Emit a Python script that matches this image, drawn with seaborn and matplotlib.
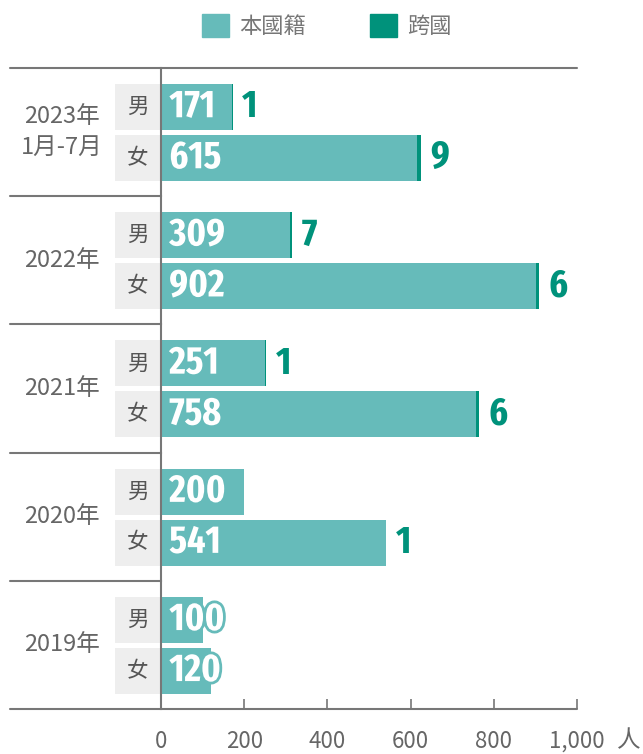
import matplotlib
matplotlib.use('Agg')
import matplotlib.pyplot as plt
import seaborn as sns
import pandas as pd
from matplotlib.patches import Patch, Rectangle
from matplotlib.lines import Line2D
import matplotlib.patheffects as pe
from matplotlib.transforms import blended_transform_factory
from matplotlib import font_manager
import os

# ---- data ----
years = ['2023年\n1月-7月', '2022年', '2021年', '2020年', '2019年']
sexes = ['男', '女']
local_male = [171, 309, 251, 200, 100]
local_female = [615, 902, 758, 541, 120]
cross_male = [1, 7, 1, 0, 0]
cross_female = [9, 6, 6, 1, 0]
xticks = [0, 200, 400, 600, 800, 1000]
xtick_labels = ['0', '200', '400', '600', '800', '1,000']
legend_labels = ['本國籍', '跨國']
unit_label = '人'

TEAL = '#66bbba'
DARK = '#00927b'
GRAY = '#777777'
TXT = '#666666'

sns.set_theme(style='white')
plt.rcParams['font.family'] = ['Noto Sans CJK TC', 'DejaVu Sans']


# pick the narrowest bold font available for the value labels
def score(f):
    fn = os.path.basename(f.fname).lower()
    if 'italic' in fn or 'oblique' in fn:
        return -1
    s = 0
    if 'extracondensed' in fn or 'extra-condensed' in str(f.stretch):
        s += 30
    elif 'semicondensed' in fn:
        s += 10
    elif 'condensed' in fn or 'narrow' in fn or 'condensed' in str(f.stretch):
        s += 20
    else:
        return -1
    if 'extrabold' in fn or 'black' in fn:
        s += 3
    elif 'semibold' in fn:
        s += 4
    elif 'bold' in fn:
        s += 5
    if 'mono' in fn or 'serif' in fn.replace('sans', ''):
        s -= 8
    return s


cands = sorted(font_manager.fontManager.ttflist, key=score, reverse=True)
if cands and score(cands[0]) > 0:
    NUMPROPS = font_manager.FontProperties(fname=cands[0].fname, size=28)
else:
    NUMPROPS = font_manager.FontProperties(family='DejaVu Sans', weight='bold', size=21)

W, H = 643, 754
fig = plt.figure(figsize=(W / 100, H / 100), dpi=100)


def fx(px):
    return px / W


def fy(py):
    return 1 - py / H


x0, x1 = 161, 577
top, bottom = 68, 709
gh = (bottom - top) / len(years)
unit = 51.0
ytop = -39.0 / unit
ybot = ytop + gh / unit

for g, year in enumerate(years):
    gt = top + gh * g
    ax = fig.add_axes([fx(x0), fy(gt + gh), fx(x1) - fx(x0), gh / H])
    df = pd.DataFrame({'sex': sexes,
                       'local': [local_male[g], local_female[g]],
                       'cross': [cross_male[g], cross_female[g]]})
    df['total'] = df['local'] + df['cross']
    sns.barplot(data=df, x='total', y='sex', color=DARK, orient='h', width=0.9,
                ax=ax, saturation=1, errorbar=None, linewidth=0, edgecolor='none')
    sns.barplot(data=df, x='local', y='sex', color=TEAL, orient='h', width=0.9,
                ax=ax, saturation=1, errorbar=None, linewidth=0, edgecolor='none')
    ax.set_xlim(0, 1000)
    ax.set_ylim(ybot, ytop)
    ax.set_xlabel('')
    ax.set_ylabel('')
    ax.set_yticks([])
    for s in ['top', 'right', 'bottom']:
        ax.spines[s].set_visible(False)
    ax.spines['left'].set_color(GRAY)
    ax.spines['left'].set_linewidth(1.5)
    ax.spines['left'].set_zorder(5)
    ax.patch.set_alpha(0)

    blend = blended_transform_factory(ax.transAxes, ax.transData)
    for i, s in enumerate(sexes):
        ax.add_patch(Rectangle((-46 / 416, i - 0.45), 45 / 416, 0.9, transform=blend,
                               clip_on=False, facecolor='#eeeeee', edgecolor='none'))
        ax.text(-23.5 / 416, i, s, transform=blend, ha='center', va='center',
                fontsize=15.5, color='#555555')
        lv = df['local'][i]
        cv = df['cross'][i]
        ax.annotate(str(lv), xy=(0, i), xytext=(6, 0), textcoords='offset points',
                    ha='left', va='center', fontproperties=NUMPROPS, color='white',
                    path_effects=[pe.withStroke(linewidth=4, foreground=TEAL)])
        if cv > 0:
            ax.annotate(str(cv), xy=(lv + cv, i), xytext=(7, 0), textcoords='offset points',
                        ha='left', va='center', fontproperties=NUMPROPS, color=DARK)

    if g == len(years) - 1:
        ax.set_xticks(xticks, xtick_labels)
        ax.tick_params(axis='x', bottom=True, direction='in', length=7, width=1.2,
                       color=GRAY, labelsize=16, labelcolor=TXT, pad=15)
    else:
        ax.set_xticks([])

    fig.text(fx(62), fy(gt + gh / 2), year, ha='center', va='center', fontsize=17,
             color=TXT, linespacing=1.45)

# frame lines
fig.add_artist(Line2D([fx(10), fx(577)], [fy(top)] * 2, color=GRAY, lw=1.5,
                      transform=fig.transFigure))
fig.add_artist(Line2D([fx(10), fx(577)], [fy(bottom)] * 2, color=GRAY, lw=1.5,
                      transform=fig.transFigure))
for g in range(1, len(years)):
    yy = top + gh * g
    fig.add_artist(Line2D([fx(10), fx(x0)], [fy(yy)] * 2, color=GRAY, lw=1.5,
                          transform=fig.transFigure))

fig.text(fx(629), fy(741), unit_label, ha='center', va='center', fontsize=17, color=TXT)

fig.legend(handles=[Patch(color=TEAL), Patch(color=DARK)], labels=legend_labels,
           loc='center', bbox_to_anchor=(fx(327), fy(26)), ncol=2, frameon=False,
           fontsize=16, handlelength=1.2, handleheight=1.2, handletextpad=0.45,
           columnspacing=2.9, labelcolor='#777777')

fig.savefig('out.png', dpi=100)
